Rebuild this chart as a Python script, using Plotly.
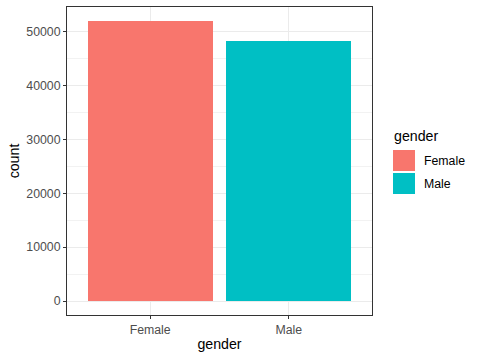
import plotly.graph_objects as go

categories = ["Female", "Male"]
counts = [51950, 48240]
colors = ["#F8766D", "#00BFC4"]
y_ticks = [0, 10000, 20000, 30000, 40000, 50000]
y_tick_labels = ["0", "10000", "20000", "30000", "40000", "50000"]

W, H = 480, 360
L, R, T, B = 67, 108, 7, 45
pw, ph = W - L - R, H - T - B

def px_x(x):
    return (x - L) / pw

def px_y(y):
    return (H - B - y) / ph

fig = go.Figure()
for cat, val, col in zip(categories, counts, colors):
    fig.add_trace(go.Bar(x=[cat], y=[val], name=cat, marker=dict(color=col, line=dict(width=0)),
                         width=0.9, showlegend=False))

# manual ggplot-style legend
fig.add_annotation(text="gender", xref="paper", yref="paper", x=px_x(392), y=px_y(136),
                   xanchor="left", yanchor="middle", showarrow=False,
                   font=dict(size=14.2, color="black"))
for i, (cat, col) in enumerate(zip(categories, colors)):
    top = 150 + i * 23
    fig.add_shape(type="rect", xref="paper", yref="paper",
                  x0=px_x(393), x1=px_x(415), y0=px_y(top + 21), y1=px_y(top),
                  fillcolor=col, line=dict(width=0))
    fig.add_annotation(text=cat, xref="paper", yref="paper", x=px_x(422), y=px_y(top + 11),
                       xanchor="left", yanchor="middle", showarrow=False,
                       font=dict(size=12.3, color="black"))

ymax = max(counts)
pad = 0.05 * ymax
fig.update_layout(
    width=W, height=H,
    margin=dict(l=L, r=R, t=T, b=B, autoexpand=False),
    paper_bgcolor="white", plot_bgcolor="white",
    font=dict(family="Liberation Sans, Arial", color="black"),
    bargap=0,
    showlegend=False,
    xaxis=dict(type="category", categoryorder="array", categoryarray=categories,
               range=[-0.6, 1.6], showgrid=True, gridcolor="#EBEBEB", gridwidth=1,
               showline=True, mirror=True, linecolor="#333333", linewidth=1,
               ticks="outside", ticklen=3, tickcolor="#333333",
               tickfont=dict(size=12.3, color="#4D4D4D"),
               title=dict(text="gender", font=dict(size=14.2, color="black"), standoff=3),
               zeroline=False, automargin=False),
    yaxis=dict(range=[-pad, ymax + pad], tickvals=y_ticks, ticktext=y_tick_labels,
               showgrid=True, gridcolor="#EBEBEB", gridwidth=1,
               minor=dict(dtick=5000, tick0=0, showgrid=True, gridcolor="#F2F2F2", gridwidth=1),
               showline=True, mirror=True, linecolor="#333333", linewidth=1,
               ticks="outside", ticklen=3, tickcolor="#333333",
               tickfont=dict(size=12.3, color="#4D4D4D"),
               title=dict(text="count", font=dict(size=14.2, color="black"), standoff=3),
               zeroline=False, automargin=False),
)
fig.write_html("out.html", config={"displayModeBar": False},
               post_script="document.body.style.margin='0';document.body.style.padding='0';")
